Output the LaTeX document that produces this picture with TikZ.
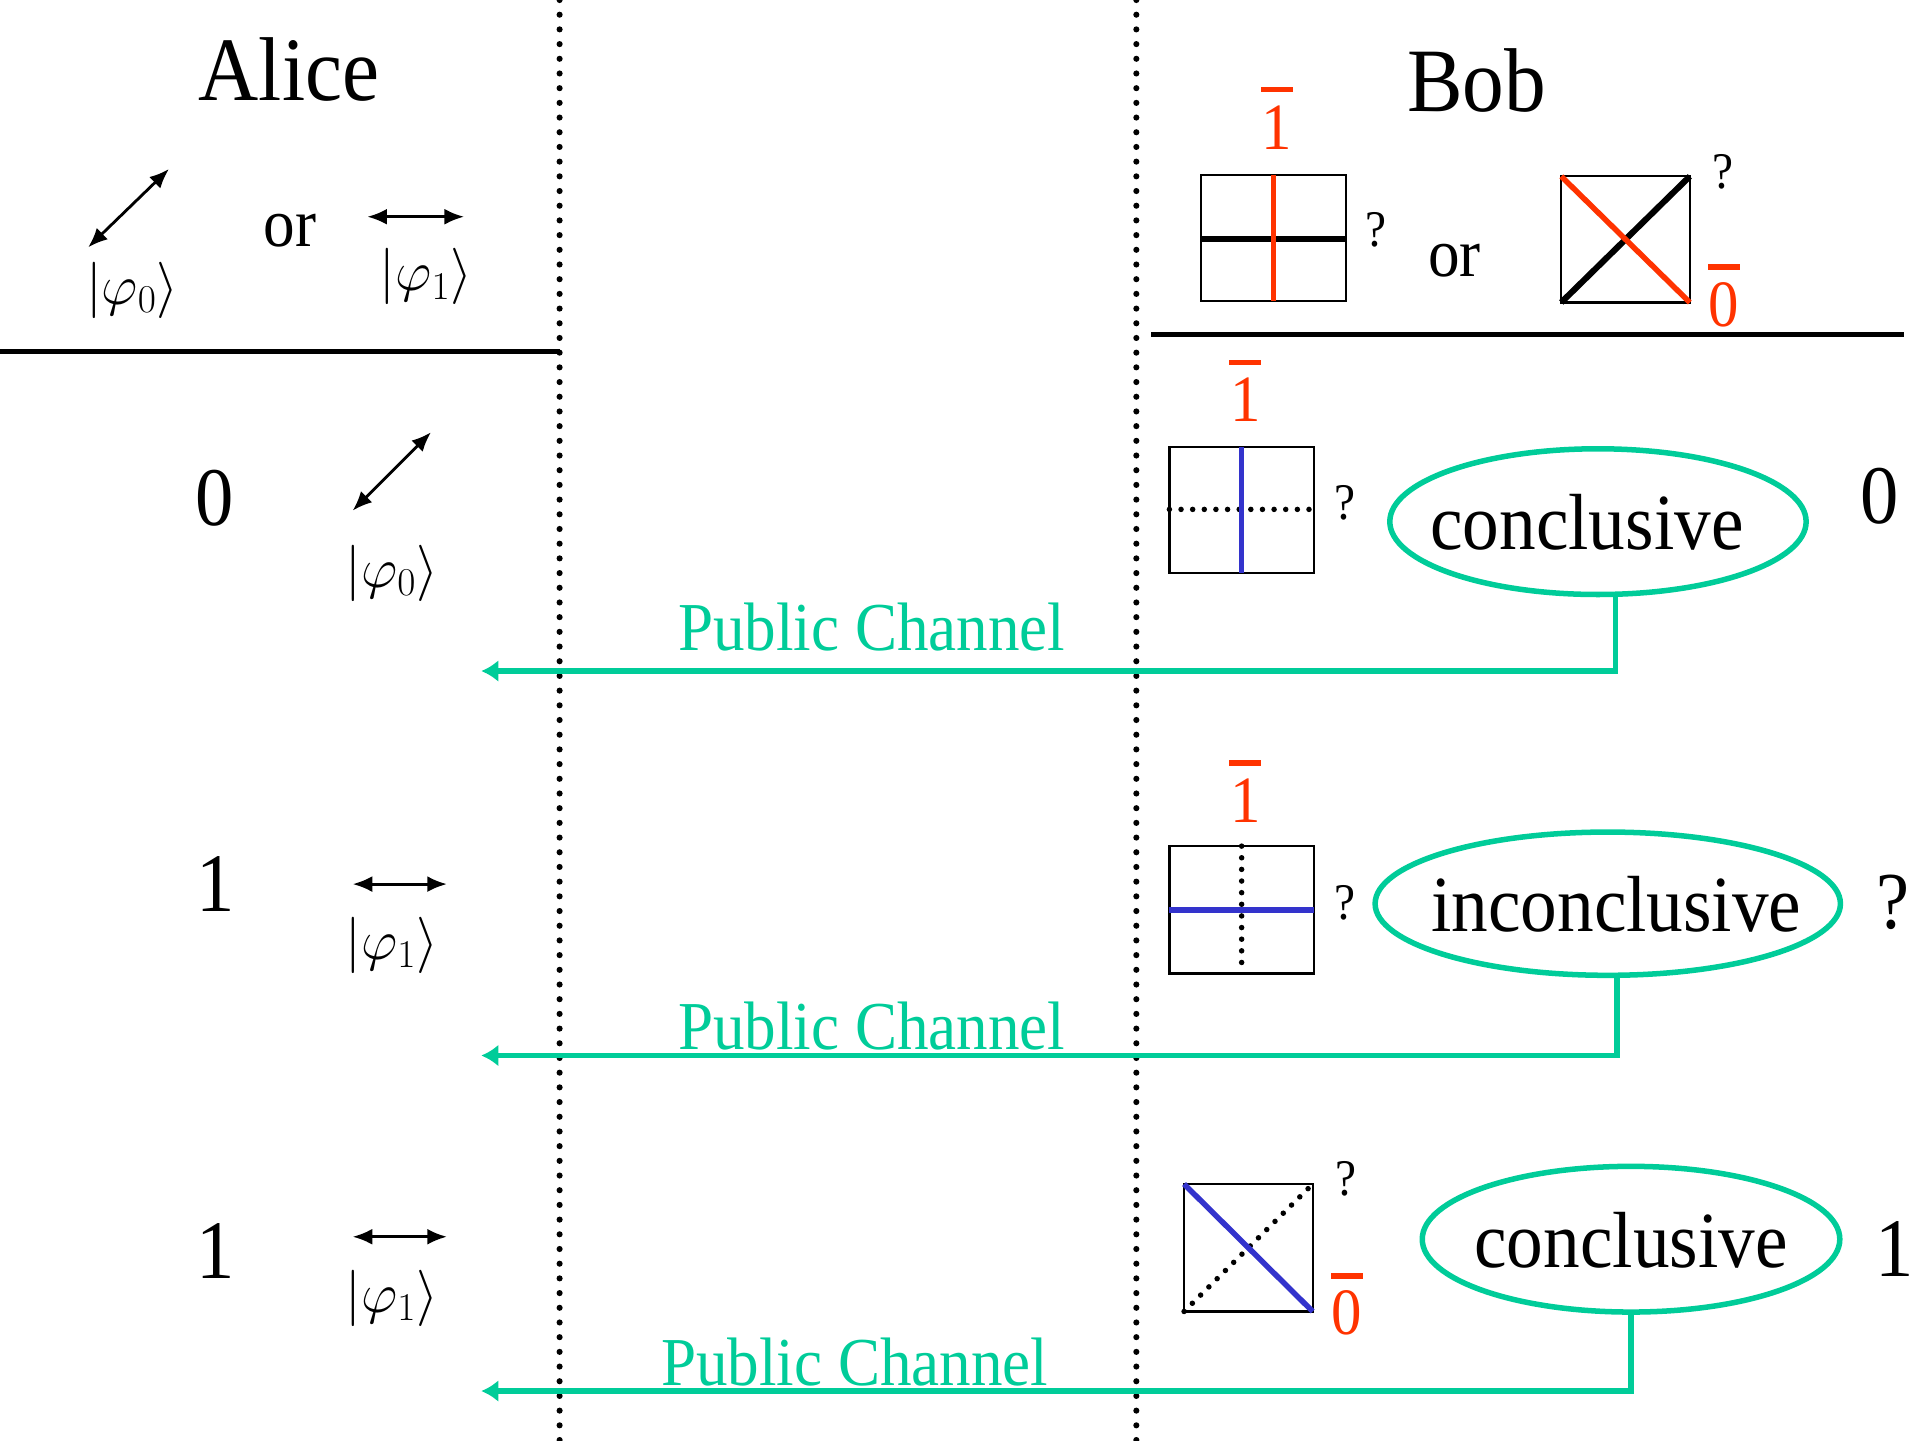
\RequirePackage{fix-cm}
\documentclass[tikz,border=0pt]{standalone}
\usepackage[no-math]{fontspec}
\setmainfont{Liberation Serif}[FakeStretch=0.92]
\usetikzlibrary{arrows.meta,shapes.geometric}
\definecolor{chgreen}{RGB}{0,204,153}
\definecolor{bitred}{RGB}{255,51,0}
\definecolor{mblue}{RGB}{51,51,204}
\newcommand{\fs}[1]{\fontsize{#1}{#1}\selectfont}
\begin{document}
\begin{tikzpicture}[x=1pt,y=-1pt,
  txt/.style={inner sep=0pt, font=\fs{#1}},
  redtxt/.style={inner sep=0pt, text=bitred, font=\fs{54}},
  redbar/.style={draw=bitred, line width=4.5pt},
  pol/.style={line width=2.3pt, {Latex[length=16pt,width=13pt]}-{Latex[length=16pt,width=13pt]}},
  sep/.style={line width=4.5pt},
  dotline/.style={line width=5pt, line cap=round, dash pattern=on 0pt off 12pt},
  dotinner/.style={line width=4.5pt, line cap=round, dash pattern=on 0pt off 9.5pt},
  meterbox/.style={line width=1.8pt},
  blackbar/.style={line width=5pt},
  redline/.style={draw=bitred, line width=4.5pt},
  blueline/.style={draw=mblue, line width=4.5pt},
  result/.style={ellipse, draw=chgreen, line width=4.5pt, inner xsep=-80pt, inner ysep=-40pt,
    text height=46pt, text depth=0pt, font=\fs{65}},
  channel/.style={draw=chgreen, line width=4.5pt, -{Latex[length=14pt,width=18pt]}},
  chlabel/.style={inner sep=0pt, text=chgreen, font=\fs{56}},
  ket/.style={inner sep=0pt, font=\fs{46}}
]
\useasboundingbox (0,0) rectangle (1568,1176);

% column separators
\draw[dotline] (457,0) -- (457,1176);
\draw[dotline] (928,0) -- (928,1176);

% ---------------- Alice header ----------------
\node[txt=74] (alice) at (236,57) {Alice};
\draw[pol] (72,202) -- (138,138);
\node[txt=56] (aor) at (237,188) {or};
\draw[pol] (300,177) -- (379,177);
\node[ket] (hket0) at (108,237) {$|\varphi_0\rangle$};
\node[ket] (hket1) at (348,226) {$|\varphi_1\rangle$};
\draw[sep] (0,287) -- (457,287);

% ---------------- Bob header ----------------
\node[txt=74] (bob) at (1206,66) {Bob};
% rectilinear measurement
\draw[meterbox] (981,143) rectangle (1099,246);
\draw[blackbar] (981,195) -- (1099,195);
\draw[redline] (1040,143) -- (1040,246);
\node[redtxt] (hone) at (1043,104) {1};
\draw[redbar] (1030,73) -- (1056,73);
\node[txt=42] (hq1) at (1124,188) {?};
\node[txt=56] (bor) at (1188,213) {or};
% diagonal measurement
\draw[meterbox] (1275,144) rectangle (1380,247);
\draw[blackbar] (1275,247) -- (1380,144);
\draw[redline] (1275,144) -- (1380,247);
\node[txt=42] (hq2) at (1407,140) {?};
\node[redtxt] (hzero) at (1408,249) {0};
\draw[redbar] (1395,218) -- (1421,218);
\draw[sep] (940,273) -- (1555,273);

% ---------------- Row 1 ----------------
\node[txt=68] (abit1) at (175,407) {0};
\draw[pol] (288,417) -- (352,353);
\node[ket] (ket1) at (320,468) {$|\varphi_0\rangle$};
\draw[meterbox] (955,365) rectangle (1073,468);
\draw[dotinner] (955,416) -- (1073,416);
\draw[blueline] (1014,365) -- (1014,468);
\node[redtxt] (rone1) at (1017,326) {1};
\draw[redbar] (1004,296) -- (1030,296);
\node[txt=42] (q1) at (1098,411) {?};
\node[result, minimum width=340pt, minimum height=119pt] (res1) at (1305,426) {conclusive\hspace*{18pt}};
\node[txt=68] (bbit1) at (1535,405) {0};
\coordinate (end1) at (393,548);
\draw[channel] (res1.-77.5) |- (end1);
\node[chlabel] (pc1) at (712,512) {Public Channel};

% ---------------- Row 2 ----------------
\node[txt=68] (abit2) at (176,722) {1};
\draw[pol] (288,722) -- (365,722);
\node[ket] (ket2) at (320,772) {$|\varphi_1\rangle$};
\draw[meterbox] (955,691) rectangle (1073,795);
\draw[dotinner] (1014,691) -- (1014,795);
\draw[blueline] (955,743) -- (1073,743);
\node[redtxt] (rone2) at (1017,654) {1};
\draw[redbar] (1004,623) -- (1030,623);
\node[txt=42] (q2) at (1098,737) {?};
\node[result, minimum width=380pt, minimum height=117pt] (res2) at (1313,738) {\hspace*{14pt}inconclusive};
\node[txt=66] (bbit2) at (1546,737) {?};
\coordinate (end2) at (393,862);
\draw[channel] (res2.-83) |- (end2);
\node[chlabel] (pc2) at (712,838) {Public Channel};

% ---------------- Row 3 ----------------
\node[txt=68] (abit3) at (176,1022) {1};
\draw[pol] (288,1010) -- (365,1010);
\node[ket] (ket3) at (320,1060) {$|\varphi_1\rangle$};
\draw[meterbox] (967,967) rectangle (1072,1071);
\draw[dotinner] (967,1071) -- (1072,967);
\draw[blueline] (967,967) -- (1072,1071);
\node[txt=42] (q3) at (1099,963) {?};
\node[redtxt] (rzero3) at (1100,1072) {0};
\draw[redbar] (1087,1042) -- (1113,1042);
\node[result, minimum width=341pt, minimum height=119pt] (res3) at (1332,1012) {conclusive};
\node[txt=68] (bbit3) at (1547,1020) {1};
\coordinate (end3) at (393,1136);
\draw[channel] (res3.south) |- (end3);
\node[chlabel] (pc3) at (698,1112) {Public Channel};
\end{tikzpicture}
\end{document}
